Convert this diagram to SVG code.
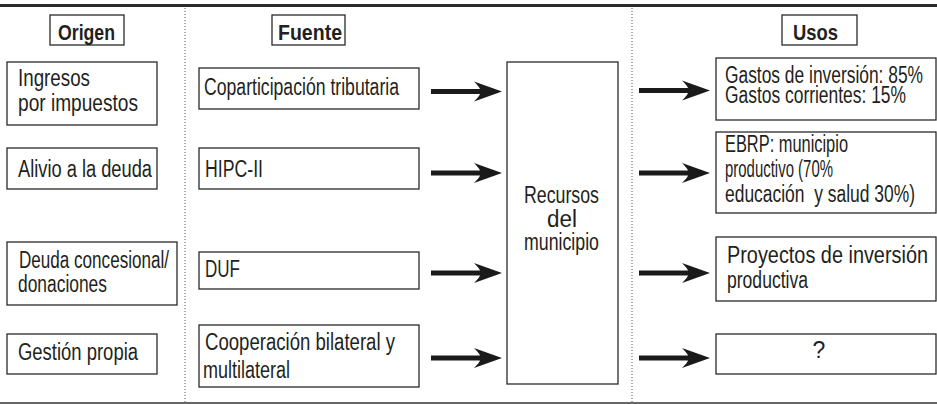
<svg xmlns="http://www.w3.org/2000/svg" width="937" height="404" viewBox="0 0 937 404">
<defs>
<style>
.bx{fill:#fff;stroke:#2a2a2a;stroke-width:1.3}
.t{font-family:"Liberation Sans",Arial,sans-serif;font-size:23px;fill:#231f20;white-space:pre}
.h{font-weight:bold;font-size:22px}
.dot{stroke:#555;stroke-width:1;stroke-dasharray:1 2;fill:none}
.arw{fill:#1a1a1a}
</style>
<path id="arrow" d="M0 0 L-28 -10 Q-23 -5 -22 -2.5 L-71 -2.5 L-71 2.5 L-22 2.5 Q-23 5 -28 10 Z"/>
</defs>
<rect width="937" height="404" fill="#fff"/>
<g id="frame">
<line x1="0" y1="5.5" x2="937" y2="5.5" stroke="#2a2a2a" stroke-width="3"/>
<line x1="0" y1="403" x2="937" y2="403" stroke="#333" stroke-width="1.5"/>
<line class="dot" x1="185" y1="8" x2="185" y2="402"/>
<line class="dot" x1="632" y1="8" x2="632" y2="402"/>
</g>
<g id="hdr-origen"><rect class="bx" x="50" y="15" width="74" height="30"/><text class="t h" x="58" y="40" textLength="57" lengthAdjust="spacingAndGlyphs">Origen</text></g>
<g id="hdr-fuente"><rect class="bx" x="272" y="15" width="73" height="30"/><text class="t h" x="278" y="40" textLength="64" lengthAdjust="spacingAndGlyphs">Fuente</text></g>
<g id="hdr-usos"><rect class="bx" x="782" y="15" width="75" height="30"/><text class="t h" x="793" y="40" textLength="45" lengthAdjust="spacingAndGlyphs">Usos</text></g>

<g id="ingresos"><rect class="bx" x="7" y="62" width="150" height="63"/>
<text class="t" x="18" y="86" textLength="72" lengthAdjust="spacingAndGlyphs">Ingresos</text>
<text class="t" x="18" y="111" textLength="120" lengthAdjust="spacingAndGlyphs">por impuestos</text></g>
<g id="alivio"><rect class="bx" x="7" y="148" width="150" height="41"/>
<text class="t" x="18" y="177" textLength="134" lengthAdjust="spacingAndGlyphs">Alivio a la deuda</text></g>
<g id="deuda"><rect class="bx" x="7" y="242" width="170" height="63"/>
<text class="t" x="19" y="268" textLength="150" lengthAdjust="spacingAndGlyphs">Deuda concesional/</text>
<text class="t" x="18" y="292" textLength="89" lengthAdjust="spacingAndGlyphs">donaciones</text></g>
<g id="gestion"><rect class="bx" x="7" y="334" width="150" height="40"/>
<text class="t" x="18" y="360" textLength="120" lengthAdjust="spacingAndGlyphs">Gestión propia</text></g>

<g id="copart"><rect class="bx" x="199" y="68" width="220" height="41"/>
<text class="t" x="204" y="95" textLength="195" lengthAdjust="spacingAndGlyphs">Coparticipación tributaria</text></g>
<g id="hipc"><rect class="bx" x="199" y="148" width="220" height="41"/>
<text class="t" x="205" y="177" textLength="58" lengthAdjust="spacingAndGlyphs">HIPC-II</text></g>
<g id="duf"><rect class="bx" x="199" y="252" width="220" height="37"/>
<text class="t" x="205" y="277" textLength="35" lengthAdjust="spacingAndGlyphs">DUF</text></g>
<g id="coop"><rect class="bx" x="199" y="325" width="220" height="62"/>
<text class="t" x="205" y="350" textLength="190" lengthAdjust="spacingAndGlyphs">Cooperación bilateral y</text>
<text class="t" x="203" y="378" textLength="87" lengthAdjust="spacingAndGlyphs">multilateral</text></g>

<g id="recursos"><rect class="bx" x="507" y="62" width="111" height="322"/>
<text class="t" x="524" y="203" textLength="75" lengthAdjust="spacingAndGlyphs">Recursos</text>
<text class="t" x="562" y="227" text-anchor="middle" textLength="30" lengthAdjust="spacingAndGlyphs">del</text>
<text class="t" x="524" y="250" textLength="75" lengthAdjust="spacingAndGlyphs">municipio</text></g>

<g id="gastos"><rect class="bx" x="716" y="58" width="220" height="62"/>
<text class="t" x="725" y="83" textLength="198" lengthAdjust="spacingAndGlyphs">Gastos de inversión: 85%</text>
<text class="t" x="725" y="103" textLength="181" lengthAdjust="spacingAndGlyphs">Gastos corrientes: 15%</text></g>
<g id="ebrp"><rect class="bx" x="716" y="132" width="220" height="81"/>
<text class="t" x="725" y="152" textLength="123" lengthAdjust="spacingAndGlyphs">EBRP: municipio</text>
<text class="t" x="725" y="177" textLength="108" lengthAdjust="spacingAndGlyphs">productivo (70%</text>
<text class="t" x="725" y="202" textLength="190" lengthAdjust="spacingAndGlyphs">educación  y salud 30%)</text></g>
<g id="proyectos"><rect class="bx" x="716" y="237" width="220" height="64"/>
<text class="t" x="727" y="263" textLength="201" lengthAdjust="spacingAndGlyphs">Proyectos de inversión</text>
<text class="t" x="727" y="288" textLength="81" lengthAdjust="spacingAndGlyphs">productiva</text></g>
<g id="pregunta"><rect class="bx" x="716" y="334" width="220" height="40"/>
<text class="t" x="819" y="358" text-anchor="middle">?</text></g>

<g id="connectors" class="arw">
<use href="#arrow" transform="translate(502 91.5)"/>
<use href="#arrow" transform="translate(502 173)"/>
<use href="#arrow" transform="translate(502 273)"/>
<use href="#arrow" transform="translate(502 358)"/>
<use href="#arrow" transform="translate(710 90.5)"/>
<use href="#arrow" transform="translate(710 173)"/>
<use href="#arrow" transform="translate(710 273)"/>
<use href="#arrow" transform="translate(710 358)"/>
</g>
</svg>
